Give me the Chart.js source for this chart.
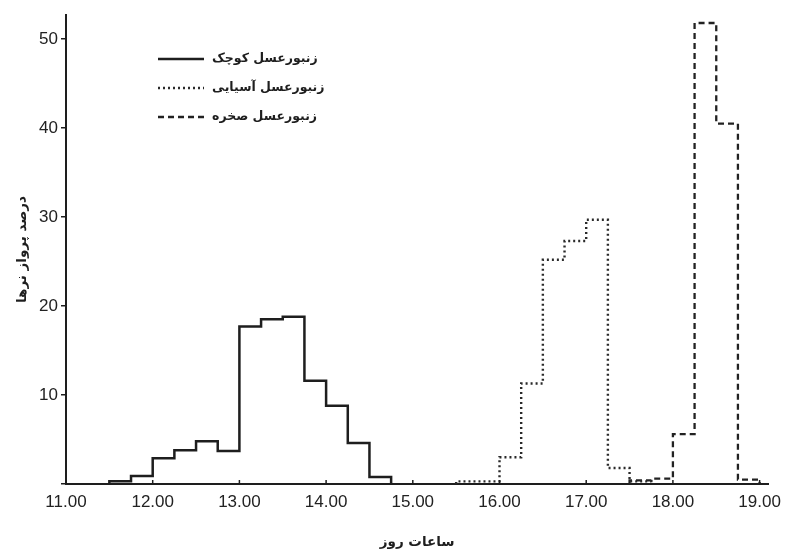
<!DOCTYPE html>
<html>
<head>
<meta charset="utf-8">
<script src="https://cdn.jsdelivr.net/npm/chart.js@4/dist/chart.umd.min.js"></script>
<style>
  html, body { margin: 0; padding: 0; background: #fff; }
  #wrap { width: 789px; height: 551px; }
</style>
</head>
<body>
<div id="wrap"><canvas id="myChart" width="789" height="551"></canvas></div>
<script>
// bin edges (hours) and percentages
const smallBins = [11.50, 11.75, 12.00, 12.25, 12.50, 12.75, 13.00, 13.25, 13.50, 13.75, 14.00, 14.25, 14.50, 14.75]
const smallValues = [0.3, 0.9, 2.9, 3.8, 4.8, 3.7, 17.7, 18.5, 18.8, 11.6, 8.8, 4.6, 0.8]

const asianBins = [15.50, 15.75, 16.00, 16.25, 16.50, 16.75, 17.00, 17.25, 17.50, 17.75]
const asianValues = [0.3, 0.3, 3.0, 11.3, 25.2, 27.3, 29.7, 1.8, 0.3]

const rockBins = [17.50, 17.75, 18.00, 18.25, 18.50, 18.75, 19.00]
const rockValues = [0.4, 0.6, 5.6, 51.8, 40.5, 0.5]

const seriesNames = ['زنبورعسل کوچک', 'زنبورعسل آسیایی', 'زنبورعسل صخره']

const xTickValues = [11, 12, 13, 14, 15, 16, 17, 18, 19]
const xTickLabels = ['11.00', '12.00', '13.00', '14.00', '15.00', '16.00', '17.00', '18.00', '19.00']
const yTickValues = [0, 10, 20, 30, 40, 50]

const xTitle = 'ساعات روز'
const yTitle = 'درصد پرواز نرها'

// outline of a histogram: up from zero at the first edge, down to zero at the last
function outline(bins, values) {
    const pts = [{ x: bins[0], y: 0 }]
    values.forEach((v, i) => pts.push({ x: bins[i], y: v }))
    pts.push({ x: bins[bins.length - 1], y: 0 })
    return pts
}

const ink = '#1e1e1e'

// legend drawn inside the plot, line sample on the left of the text
const legendInside = {
    id: 'legendInside',
    afterDraw(chart) {
        const c = chart.ctx
        const x0 = chart.chartArea.left + 92
        const y0 = chart.chartArea.top + 44
        c.save()
        c.font = 'bold 12.5px "DejaVu Sans"'
        c.textBaseline = 'middle'
        c.fillStyle = ink
        chart.data.datasets.forEach((ds, i) => {
            const y = y0 + i * 29
            c.beginPath()
            c.strokeStyle = ds.borderColor
            c.lineWidth = ds.borderWidth
            c.setLineDash(ds.borderDash || [])
            c.moveTo(x0, y)
            c.lineTo(x0 + 46, y)
            c.stroke()
            c.setLineDash([])
            c.fillText(ds.label, x0 + 54, y)
        })
        c.restore()
    }
}

// short inward tick marks on the x axis
const innerTicks = {
    id: 'innerTicks',
    afterDraw(chart) {
        const c = chart.ctx
        const sx = chart.scales.x
        const bottom = chart.chartArea.bottom
        c.save()
        c.strokeStyle = ink
        c.lineWidth = 1.5
        xTickValues.forEach(v => {
            const px = sx.getPixelForValue(v)
            c.beginPath()
            c.moveTo(px, bottom)
            c.lineTo(px, bottom - 4)
            c.stroke()
        })
        c.restore()
    }
}

const ctx = document.getElementById('myChart')

const myChart = new Chart(ctx, {
    type: 'line',
    data: {
        datasets: [{
            label: seriesNames[0],
            data: outline(smallBins, smallValues),
            borderColor: ink,
            borderWidth: 2.5
        }, {
            label: seriesNames[1],
            data: outline(asianBins, asianValues),
            borderColor: '#2a2a2a',
            borderWidth: 2.4,
            borderDash: [2, 3]
        }, {
            label: seriesNames[2],
            data: outline(rockBins, rockValues),
            borderColor: '#222',
            borderWidth: 2.3,
            borderDash: [6, 4]
        }]
    },
    options: {
        responsive: false,
        animation: false,
        layout: { padding: { left: 10, right: 10, top: 15, bottom: 0 } },
        datasets: {
            line: { stepped: 'before', pointRadius: 0, fill: false, tension: 0, clip: false }
        },
        plugins: {
            legend: { display: false },
            tooltip: { enabled: false }
        },
        scales: {
            x: {
                type: 'linear',
                min: 11,
                max: 19.1,
                afterBuildTicks: s => { s.ticks = xTickValues.map(v => ({ value: v })) },
                afterFit: s => { s.height = 67 },
                border: { color: ink, width: 2 },
                grid: { drawOnChartArea: false, drawTicks: false },
                ticks: {
                    padding: 8,
                    color: '#222',
                    font: { family: '"Liberation Sans"', size: 17 },
                    maxRotation: 0,
                    callback: (v, i) => xTickLabels[i]
                },
                title: {
                    display: true,
                    text: xTitle,
                    color: ink,
                    font: { family: '"DejaVu Sans"', size: 13.5, weight: 'bold' },
                    padding: { top: 0, bottom: 0 }
                }
            },
            y: {
                min: 0,
                max: 52.7,
                afterBuildTicks: s => { s.ticks = yTickValues.map(v => ({ value: v })) },
                afterFit: s => { s.width = 56 },
                border: { color: ink, width: 2 },
                grid: { drawOnChartArea: false, tickLength: 5, color: ink, lineWidth: 1.5 },
                ticks: {
                    padding: 3,
                    color: '#222',
                    font: { family: '"Liberation Sans"', size: 17 },
                    callback: v => v === 0 ? '' : v
                },
                title: {
                    display: true,
                    text: yTitle,
                    color: ink,
                    font: { family: '"DejaVu Sans"', size: 13.5, weight: 'bold' },
                    padding: { top: 4, bottom: 0 }
                }
            }
        }
    },
    plugins: [legendInside, innerTicks]
})
</script>
</body>
</html>
